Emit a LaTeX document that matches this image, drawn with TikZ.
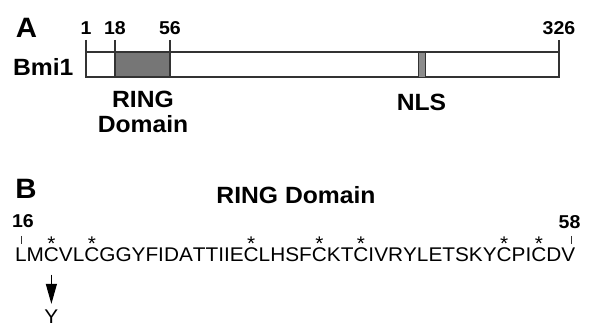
\documentclass[tikz,border=0pt]{standalone}
\usepackage{fontspec}
\setmainfont{Liberation Sans}[FakeStretch=1.05]
\usetikzlibrary{arrows.meta}
\usetikzlibrary{positioning}

\definecolor{ringgray}{HTML}{767676}
\definecolor{nlsgray}{HTML}{8C8C8C}

\begin{document}
\begin{tikzpicture}[x=1pt,y=-1pt,
		panel/.style={font=\fontsize{28}{28}\selectfont\bfseries, inner sep=0, outer sep=0},
		lbl/.style={font=\fontsize{23.5}{24}\selectfont\bfseries, inner sep=0, outer sep=0},
		num/.style={font=\fontsize{18.6}{18}\selectfont\bfseries, inner sep=0, outer sep=0},
		res/.style={font=\fontsize{19.8}{20}\selectfont, inner sep=0, outer sep=0},
		bar/.style={draw=black!80, line width=1.5pt},
		tick/.style={draw=black!80, line width=1.2pt}]
			\useasboundingbox (0,0) rectangle (589,328);
			
			% panel A: Bmi1 protein
			\node[panel] (pA) at (26.5,27.5) {A};
			\node[lbl, anchor=west] (bmi) at (13,66.5) {Bmi1};
			
			\draw[bar, fill=white] (86,52) rectangle (559,77);
			\draw[bar, fill=ringgray] (115,52) rectangle (170,77);
			\draw[bar, fill=nlsgray, line width=0.8pt] (418,52) rectangle (425,77);
			
			\foreach \x/\n in {86/1, 115/18, 170/56, 559/326}{
				\draw[tick] (\x,40) -- (\x,52);
				\node[num, anchor=base] (n\n) at (\x,34.5) {\n};
			}
			
			\node[lbl, anchor=base] (ring) at (143,108) {RING};
			\node[lbl, anchor=base] (dom) at (143,133) {Domain};
			\node[lbl, anchor=base] (nls) at (421.5,111) {NLS};
			
			% panel B: RING domain sequence
			\node[panel] (pB) at (26,188.5) {B};
			\node[lbl] (title) at (296,195) {RING Domain};
			
			\node[num, anchor=base] (n16) at (23,228) {16};
			\node[num, anchor=base] (n58) at (569.5,229) {58};
			\draw[tick, line width=1pt] (21,236) -- (21,244);
			\draw[tick, line width=1pt] (571,236) -- (571,244);
			
			\node[res, anchor=base west] (r0) at (15,262) {L};
			\foreach \c [count=\i from 1, remember=\i as \j (initially 0)] in
				{M,C,V,L,C,G,G,Y,F,I,D,A,T,T,I,I,E,C,L,H,S,F,C,K,T,C,I,V,R,Y,L,E,T,S,K,Y,C,P,I,C,D,V}{
				\node[res, anchor=base west] (r\i) at (r\j.base east) {\c};
			}
			
			% conserved cysteines
			\foreach \k in {2,5,18,23,26,37,40}
				\node[res, anchor=base] (s\k) at (r\k.base |- 0,251) {*};
			
			% C18Y mutation
			\node[res, anchor=base] (mut) at (r2.base |- 0,323.5) {Y};
			\draw[-{Triangle[width=11pt,length=20pt]}, line width=1.2pt, shorten <=12.5pt, shorten >=6pt] (r2.south) -- (mut.north);
			
		\end{tikzpicture}
\end{document}
